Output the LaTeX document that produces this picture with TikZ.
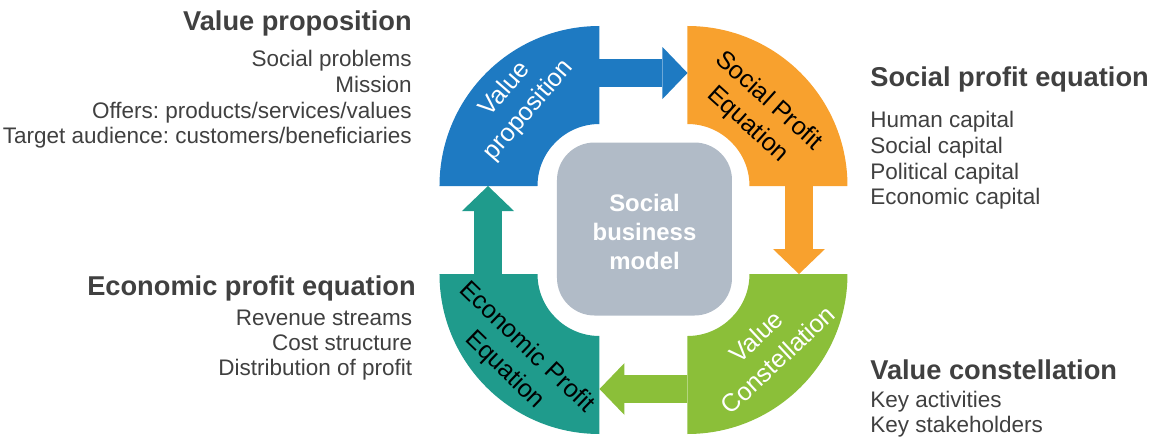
\documentclass[tikz,border=0pt]{standalone}
\usepackage{fontspec}
\setmainfont{Liberation Sans}
\frenchspacing
\usetikzlibrary{arrows.meta}
\definecolor{vpblue}{RGB}{30,122,194}
\definecolor{sporange}{RGB}{248,161,46}
\definecolor{vcgreen}{RGB}{139,191,57}
\definecolor{epteal}{RGB}{31,155,140}
\definecolor{coregray}{RGB}{177,187,199}
\definecolor{textgray}{RGB}{64,64,64}
\tikzset{
  flow/.style={line width=0.56cm, -{Triangle[width=1.04cm,length=0.5cm,line width=0pt]}},
  heading/.style={font=\fontsize{15.5}{18}\selectfont\bfseries, text=textgray, inner sep=0pt},
  item/.style={font=\fontsize{12.8}{14.5}\selectfont, text=textgray, inner sep=0pt},
  qlabel/.style={font=\fontsize{14.3}{18}\selectfont, align=center, inner sep=0pt},
  core/.style={
    fill=coregray,
    rounded corners=0.75cm,
    minimum width=3.5cm,
    minimum height=3.46cm,
    align=center,
    text=white,
    font=\fontsize{13.6}{16.5}\selectfont\bfseries
  }
}

\begin{document}
\begin{tikzpicture}

\useasboundingbox (-12.87,-4.2) rectangle (10.27,4.6);

% corners of the four quarter rings
\coordinate (vp) at (-0.88,0.88);
\coordinate (sp) at (0.88,0.88);
\coordinate (vc) at (0.88,-0.88);
\coordinate (ep) at (-0.88,-0.88);

\foreach \c/\a/\col in {vp/90/vpblue, sp/0/sporange, vc/270/vcgreen, ep/180/epteal} {
  \fill[\col] (\c) ++(\a:3.2) arc[start angle=\a, end angle=\a+90, radius=3.2]
    -- ++(\a+270:1.96) arc[start angle=\a+90, end angle=\a, radius=1.24] -- cycle;
}

\node[core] (core) at (0.02,0.02) {\rule{0pt}{13.5pt}Social\\business\\model};

\def\off{2.26}

% flows between the rings
\draw[flow, vpblue] ([yshift=\off cm]vp) -- ([yshift=\off cm]sp);
\draw[flow, sporange] ([xshift=2.23cm]sp) -- ([xshift=2.23cm]vc);
\draw[flow, vcgreen] ([yshift=-2.3cm]vc) -- ([yshift=-2.3cm]ep);
\draw[flow, epteal] ([xshift=-2.23cm]ep) -- ([xshift=-2.23cm]vp);

% ring labels
\node[qlabel, text=white, rotate=49] (vp-label) at (-2.53,2.6) {Value\\proposition};
\node[qlabel, text=black, rotate=-42] (sp-label) at (2.29,2.34) {Social Profit\\Equation};
\node[qlabel, text=white, rotate=43] (vc-label) at (2.47,-2.36) {Value\\Constellation};
\node[qlabel, text=black, rotate=-44] (ep-label) at (-2.56,-2.58) {Economic Profit\\Equation};

% value proposition
\node[heading, anchor=base east] (vp-head) at (-4.63,4.0) {Value proposition};
\foreach \t [count=\i] in {Social problems, Mission, Offers: products/services/values,
  Target audience: customers/beneficiaries}
  \node[item, anchor=base east] (vp-\i) at (-4.63,3.77-0.51*\i) {\t};

% social profit equation
\node[heading, anchor=base west] (sp-head) at (4.53,2.87) {Social profit equation};
\foreach \t [count=\i] in {Human capital, Social capital, Political capital, Economic capital}
  \node[item, anchor=base west] (sp-\i) at (4.53,2.55-0.51*\i) {\t};

% economic profit equation
\node[heading, anchor=base east] (ep-head) at (-4.55,-1.3) {Economic profit equation};
\foreach \t [count=\i] in {Revenue streams, Cost structure, Distribution of profit}
  \node[item, anchor=base east] (ep-\i) at (-4.62,-1.4-0.5*\i) {\t};

% value constellation
\node[heading, anchor=base west] (vc-head) at (4.53,-2.98) {Value constellation};
\foreach \t [count=\i] in {Key activities, Key stakeholders}
  \node[item, anchor=base west] (vc-\i) at (4.53,-3.04-0.5*\i) {\t};

\end{tikzpicture}
\end{document}
